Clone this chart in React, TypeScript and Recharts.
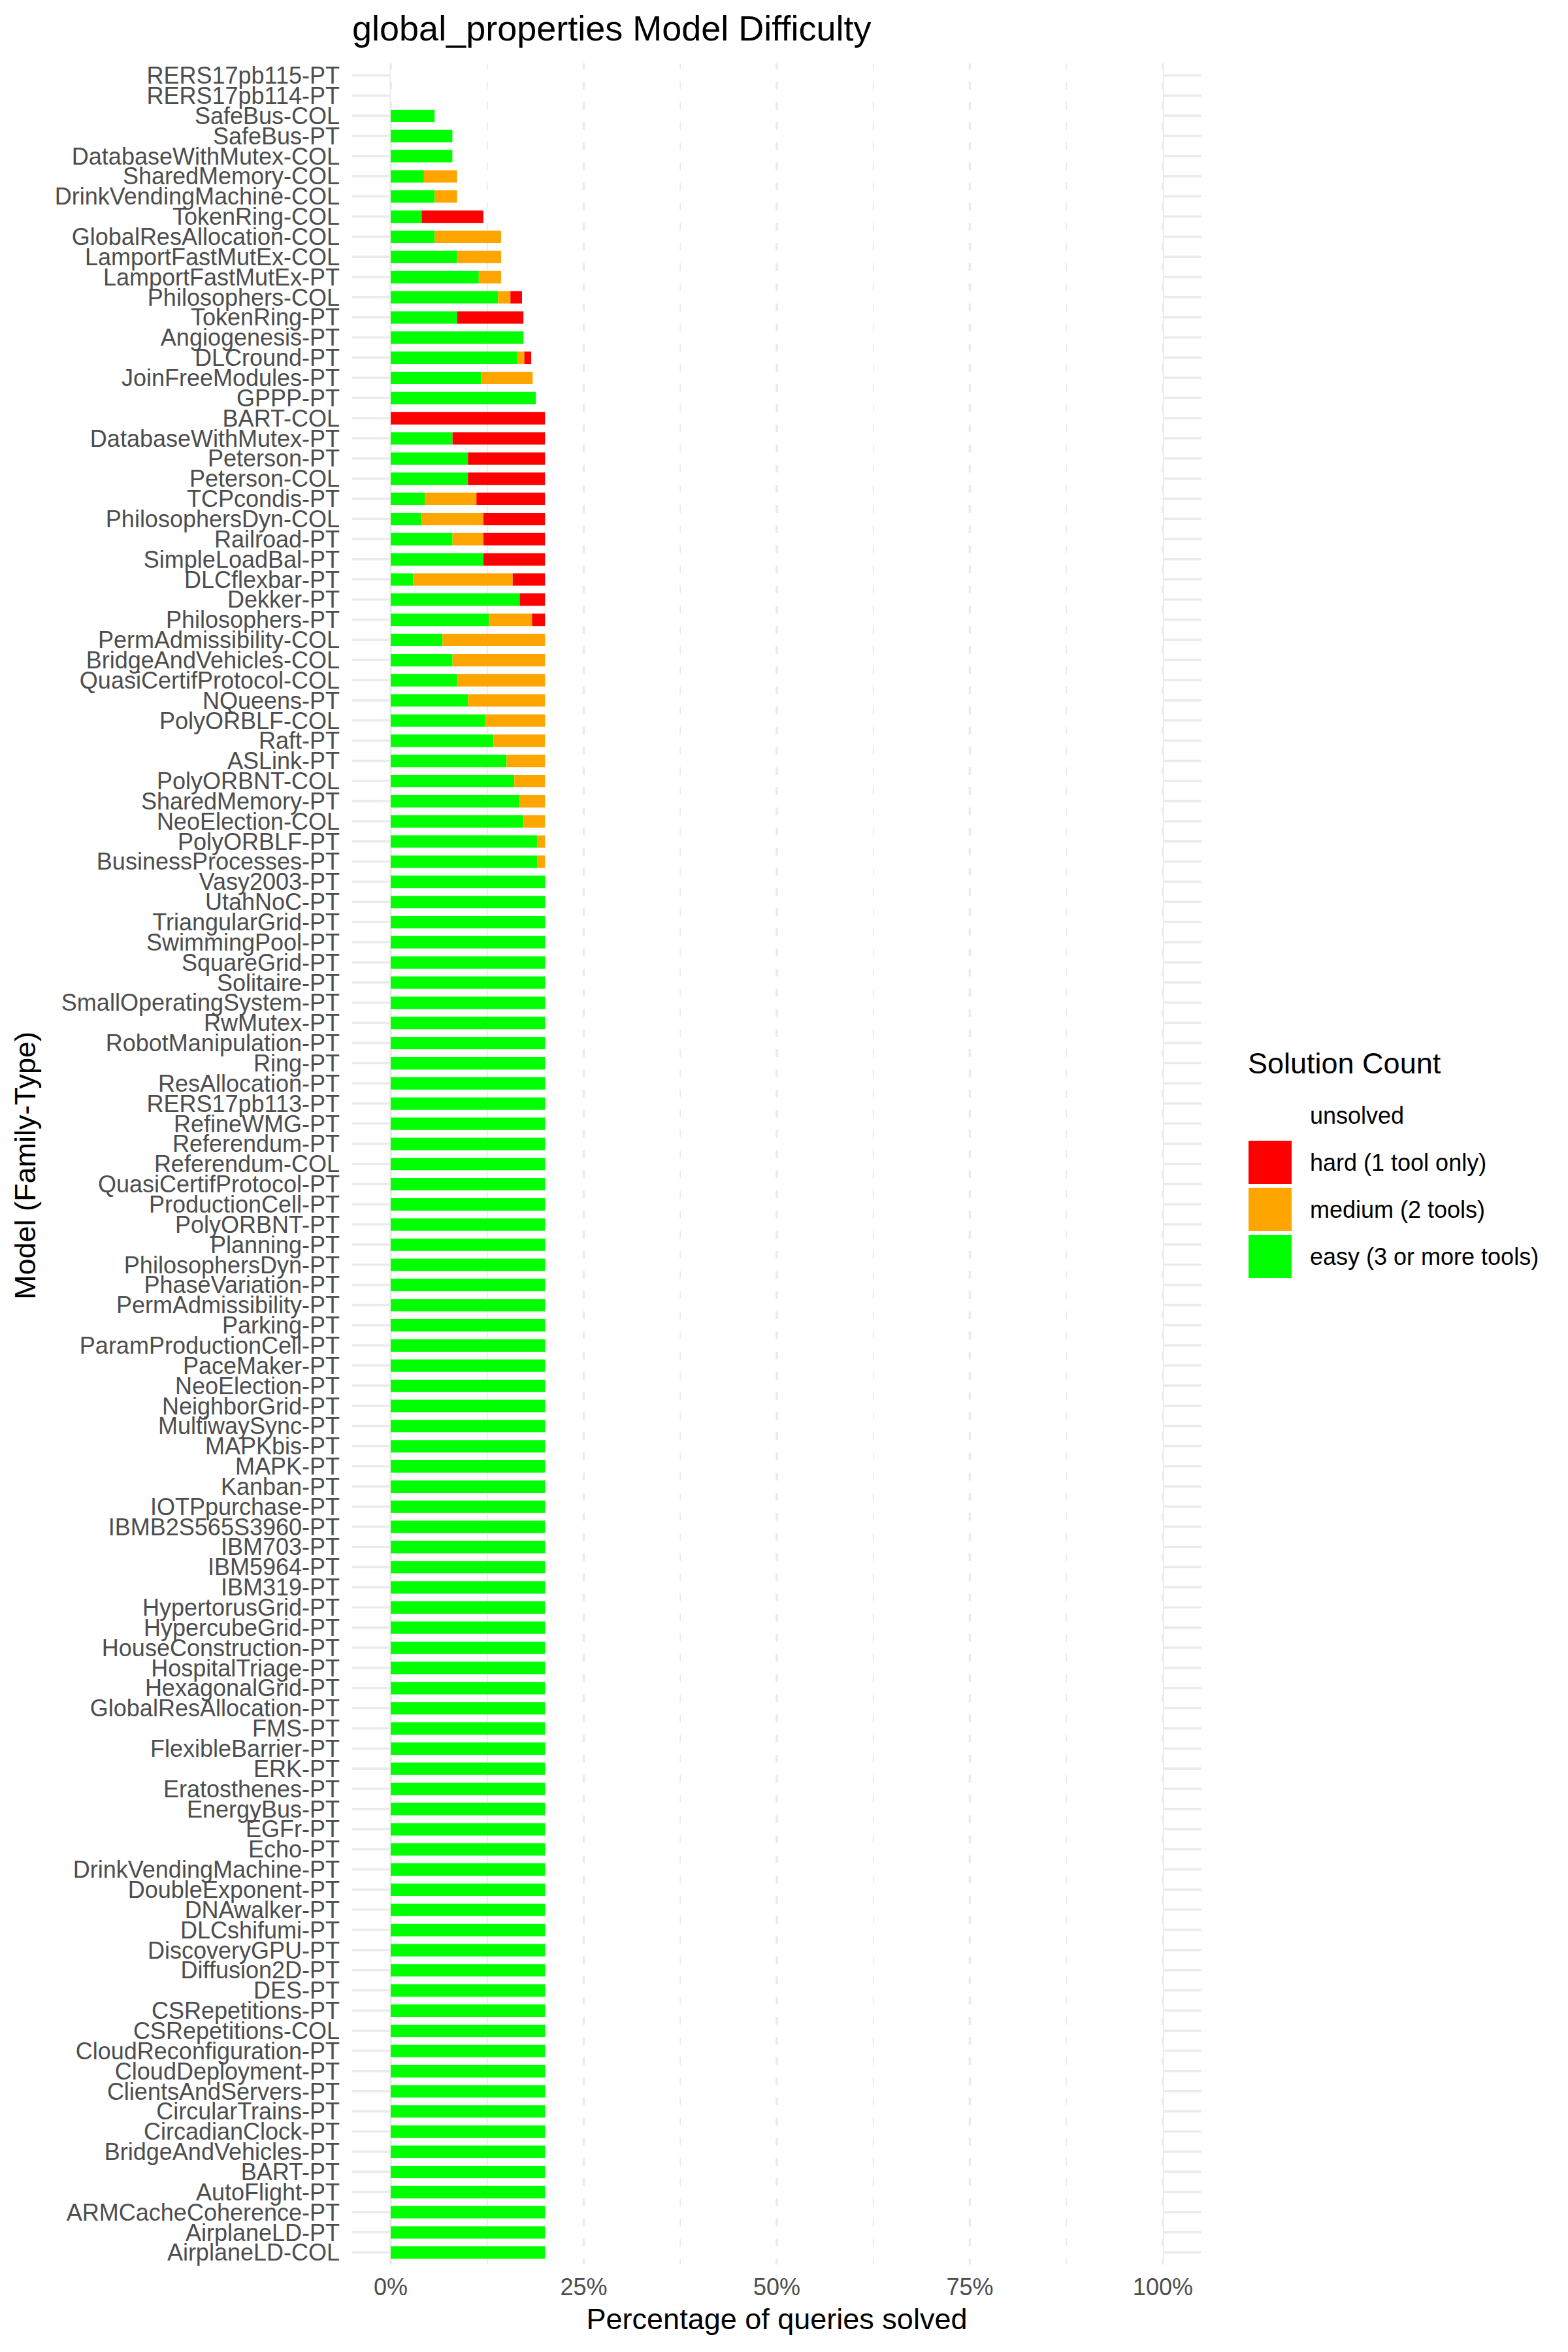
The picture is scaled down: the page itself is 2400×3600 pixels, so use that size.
import React from "react";
import { BarChart, Bar, XAxis, YAxis, CartesianGrid } from "recharts";

// models from top to bottom as they appear on the y axis
const models = [
  "RERS17pb115-PT", "RERS17pb114-PT", "SafeBus-COL", "SafeBus-PT", "DatabaseWithMutex-COL",
  "SharedMemory-COL", "DrinkVendingMachine-COL", "TokenRing-COL", "GlobalResAllocation-COL", "LamportFastMutEx-COL",
  "LamportFastMutEx-PT", "Philosophers-COL", "TokenRing-PT", "Angiogenesis-PT", "DLCround-PT",
  "JoinFreeModules-PT", "GPPP-PT", "BART-COL", "DatabaseWithMutex-PT", "Peterson-PT",
  "Peterson-COL", "TCPcondis-PT", "PhilosophersDyn-COL", "Railroad-PT", "SimpleLoadBal-PT",
  "DLCflexbar-PT", "Dekker-PT", "Philosophers-PT", "PermAdmissibility-COL", "BridgeAndVehicles-COL",
  "QuasiCertifProtocol-COL", "NQueens-PT", "PolyORBLF-COL", "Raft-PT", "ASLink-PT",
  "PolyORBNT-COL", "SharedMemory-PT", "NeoElection-COL", "PolyORBLF-PT", "BusinessProcesses-PT",
  "Vasy2003-PT", "UtahNoC-PT", "TriangularGrid-PT", "SwimmingPool-PT", "SquareGrid-PT",
  "Solitaire-PT", "SmallOperatingSystem-PT", "RwMutex-PT", "RobotManipulation-PT", "Ring-PT",
  "ResAllocation-PT", "RERS17pb113-PT", "RefineWMG-PT", "Referendum-PT", "Referendum-COL",
  "QuasiCertifProtocol-PT", "ProductionCell-PT", "PolyORBNT-PT", "Planning-PT", "PhilosophersDyn-PT",
  "PhaseVariation-PT", "PermAdmissibility-PT", "Parking-PT", "ParamProductionCell-PT", "PaceMaker-PT",
  "NeoElection-PT", "NeighborGrid-PT", "MultiwaySync-PT", "MAPKbis-PT", "MAPK-PT",
  "Kanban-PT", "IOTPpurchase-PT", "IBMB2S565S3960-PT", "IBM703-PT", "IBM5964-PT",
  "IBM319-PT", "HypertorusGrid-PT", "HypercubeGrid-PT", "HouseConstruction-PT", "HospitalTriage-PT",
  "HexagonalGrid-PT", "GlobalResAllocation-PT", "FMS-PT", "FlexibleBarrier-PT", "ERK-PT",
  "Eratosthenes-PT", "EnergyBus-PT", "EGFr-PT", "Echo-PT", "DrinkVendingMachine-PT",
  "DoubleExponent-PT", "DNAwalker-PT", "DLCshifumi-PT", "DiscoveryGPU-PT", "Diffusion2D-PT",
  "DES-PT", "CSRepetitions-PT", "CSRepetitions-COL", "CloudReconfiguration-PT", "CloudDeployment-PT",
  "ClientsAndServers-PT", "CircularTrains-PT", "CircadianClock-PT", "BridgeAndVehicles-PT", "BART-PT",
  "AutoFlight-PT", "ARMCacheCoherence-PT", "AirplaneLD-PT", "AirplaneLD-COL",
];

// percentage of queries solved by 3+ tools
const easy = [
  0, 0, 5.7, 8.0, 8.0, 4.3, 5.7, 4.0, 5.7, 8.6,
  11.4, 13.9, 8.6, 17.2, 16.4, 11.7, 18.8, 0, 8.0, 10.0,
  10.0, 4.4, 4.0, 8.0, 12.0, 2.9, 16.7, 12.7, 6.7, 8.0,
  8.6, 10.0, 12.3, 13.3, 15.0, 16.0, 16.7, 17.2, 19.0, 19.0,
  20, 20, 20, 20, 20, 20, 20, 20, 20, 20,
  20, 20, 20, 20, 20, 20, 20, 20, 20, 20,
  20, 20, 20, 20, 20, 20, 20, 20, 20, 20,
  20, 20, 20, 20, 20, 20, 20, 20, 20, 20,
  20, 20, 20, 20, 20, 20, 20, 20, 20, 20,
  20, 20, 20, 20, 20, 20, 20, 20, 20, 20,
  20, 20, 20, 20, 20, 20, 20, 20, 20,
];

// solved by exactly 2 tools
const medium = [
  0, 0, 0, 0, 0, 4.3, 2.9, 0, 8.6, 5.7,
  2.9, 1.6, 0, 0, 0.9, 6.7, 0, 0, 0, 0,
  0, 6.7, 8.0, 4.0, 0, 12.9, 0, 5.6, 13.3, 12.0,
  11.4, 10.0, 7.7, 6.7, 5.0, 4.0, 3.3, 2.8, 1.0, 1.0,
  0, 0, 0, 0, 0, 0, 0, 0, 0, 0,
  0, 0, 0, 0, 0, 0, 0, 0, 0, 0,
  0, 0, 0, 0, 0, 0, 0, 0, 0, 0,
  0, 0, 0, 0, 0, 0, 0, 0, 0, 0,
  0, 0, 0, 0, 0, 0, 0, 0, 0, 0,
  0, 0, 0, 0, 0, 0, 0, 0, 0, 0,
  0, 0, 0, 0, 0, 0, 0, 0, 0,
];

// solved by a single tool
const hard = [
  0, 0, 0, 0, 0, 0, 0, 8.0, 0, 0,
  0, 1.5, 8.6, 0, 0.9, 0, 0, 20, 12.0, 10.0,
  10.0, 8.9, 8.0, 8.0, 8.0, 4.2, 3.3, 1.7, 0, 0,
  0, 0, 0, 0, 0, 0, 0, 0, 0, 0,
  0, 0, 0, 0, 0, 0, 0, 0, 0, 0,
  0, 0, 0, 0, 0, 0, 0, 0, 0, 0,
  0, 0, 0, 0, 0, 0, 0, 0, 0, 0,
  0, 0, 0, 0, 0, 0, 0, 0, 0, 0,
  0, 0, 0, 0, 0, 0, 0, 0, 0, 0,
  0, 0, 0, 0, 0, 0, 0, 0, 0, 0,
  0, 0, 0, 0, 0, 0, 0, 0, 0,
];

const xTicks = [0, 25, 50, 75, 100];
const xMinor = [12.5, 37.5, 62.5, 87.5];

const levels = ["easy", "medium", "hard", "unsolved"];
const legendOrder = ["unsolved", "hard", "medium", "easy"];
const levelLabels: Record<string, string> = {
  unsolved: "unsolved",
  hard: "hard (1 tool only)",
  medium: "medium (2 tools)",
  easy: "easy (3 or more tools)",
};
const levelColors: Record<string, string> = {
  easy: "#00FF00",
  medium: "#FFA500",
  hard: "#FF0000",
  unsolved: "#FFFFFF",
};

const data = models.map((name, i) => ({
  name,
  easy: easy[i],
  medium: medium[i],
  hard: hard[i],
  unsolved: 100 - easy[i] - medium[i] - hard[i],
}));

const FONT = "'Liberation Sans', Arial, Helvetica, sans-serif";
const GRID = "#EBEBEB";
const AXIS_TEXT = "#4D4D4D";

const App = () => {
  return (
    <div
      style={{
        position: "absolute",
        left: 0,
        top: 0,
        width: 2400,
        height: 3600,
        background: "#ffffff",
        fontFamily: FONT,
      }}
    >
      <BarChart
        width={2400}
        height={3600}
        data={data}
        layout="vertical"
        margin={{ top: 97, right: 561, bottom: 0, left: 0 }}
        barCategoryGap="20%"
      >
        <CartesianGrid
          stroke={GRID}
          strokeWidth={1.8}
          horizontal={false}
          syncWithTicks
          verticalValues={xMinor}
        />
        <CartesianGrid stroke={GRID} strokeWidth={3.6} syncWithTicks verticalValues={xTicks} />
        <XAxis
          type="number"
          domain={[-5, 105]}
          allowDataOverflow
          ticks={xTicks}
          tickFormatter={(v: number) => `${v}%`}
          axisLine={false}
          tickLine={false}
          tickSize={0}
          tickMargin={21}
          height={134}
          tick={{ fontSize: 36, fill: AXIS_TEXT }}
        />
        <YAxis
          type="category"
          dataKey="name"
          width={539}
          interval={0}
          axisLine={false}
          tickLine={false}
          tickSize={0}
          tickMargin={19}
          padding={{ top: 3, bottom: 3 }}
          tick={{ fontSize: 36, fill: AXIS_TEXT }}
        />
        {levels.map((k) => (
          <Bar key={k} dataKey={k} stackId="a" fill={levelColors[k]} isAnimationActive={false} />
        ))}
      </BarChart>
      <svg
        width={2400}
        height={3600}
        style={{ position: "absolute", left: 0, top: 0, pointerEvents: "none" }}
      >
        <text x={539} y={62} fontSize={54} fill="#000">
          global_properties Model Difficulty
        </text>
        <text x={1189} y={3565} fontSize={45} fill="#000" textAnchor="middle">
          Percentage of queries solved
        </text>
        <text
          transform="translate(54,1784) rotate(-90)"
          fontSize={45}
          fill="#000"
          textAnchor="middle"
        >
          Model (Family-Type)
        </text>
        <text x={1910} y={1643} fontSize={45} fill="#000">
          Solution Count
        </text>
        {legendOrder.map((k, i) => (
          <g key={k}>
            <rect x={1911} y={1674 + i * 72} width={66} height={66} fill={levelColors[k]} />
            <text x={2005} y={1720 + i * 72} fontSize={36} fill="#000">
              {levelLabels[k]}
            </text>
          </g>
        ))}
      </svg>
    </div>
  );
};

export default App;
